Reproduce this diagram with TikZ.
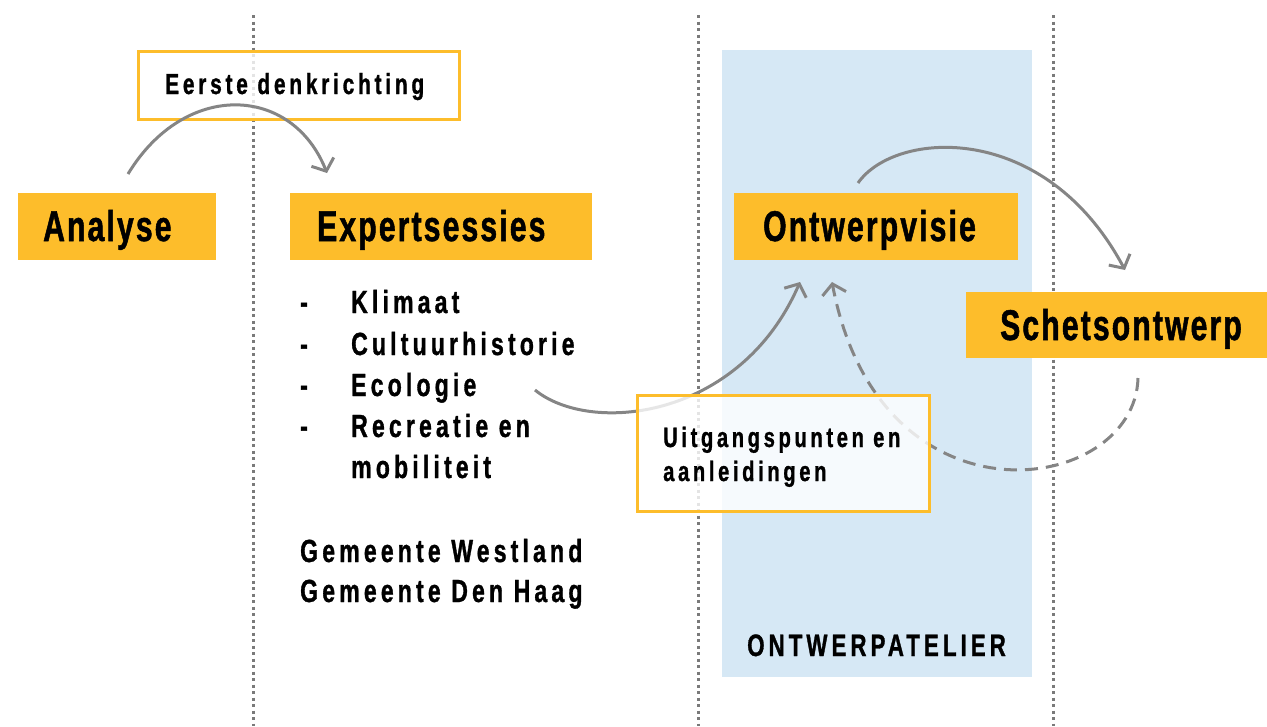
\documentclass[tikz,border=0pt]{standalone}
\usepackage{fontspec}
\setmainfont{Liberation Sans}
\newfontfamily\bigf{Liberation Sans}[FakeStretch=0.7,LetterSpace=5,FakeBold=1.2]
\newfontfamily\smf{Liberation Sans}[FakeStretch=0.72,LetterSpace=13,FakeBold=1]
\usetikzlibrary{arrows.meta}
\definecolor{ylw}{HTML}{FDBD2B}
\definecolor{lblue}{HTML}{D6E8F5}
\definecolor{arr}{HTML}{858585}
\definecolor{dotc}{HTML}{7A7A7A}
\tikzset{
  dotline/.style={dotc, line width=3pt, dash pattern=on 3pt off 3.5pt},
  ybox/.style={fill=ylw, inner sep=0pt, anchor=north west},
  obox/.style={draw=ylw, line width=3pt, fill=white, fill opacity=0.8, inner sep=0pt, anchor=north west},
  bigt/.style={inner sep=0pt, anchor=base west, font=\bigf\bfseries\fontsize{43}{48}\selectfont},
  smt/.style={inner sep=0pt, anchor=base west, font=\smf\bfseries\fontsize{32}{36}\selectfont},
  arrowc/.style={arr, line width=3pt, -{Straight Barb[length=10pt,width=24pt,line width=3pt]}},
  darrowc/.style={arrowc, dash pattern=on 13pt off 8pt}
}
\begin{document}
\begin{tikzpicture}[x=1pt,y=-1pt]
\useasboundingbox (0,0) rectangle (1267,726);
% dotted separators
\draw[dotline] (253,15) -- (253,726);
\draw[dotline] (698,15) -- (698,726);
\draw[dotline] (1053,15) -- (1053,726);
% workshop band
\fill[lblue] (722,50) rectangle (1032,677);
\node[inner sep=0pt, anchor=base west, font=\smf\bfseries\fontsize{31}{36}\selectfont] (atelier) at (747,656) {ONTWERPATELIER};
% first idea box
\node[obox, minimum width=321pt, minimum height=68pt] (eerste) at (137,50) {};
\node[inner sep=0pt, anchor=base west, font=\smf\bfseries\fontsize{29}{34}\selectfont] (eerstet) at (165,94) {Eerste denkrichting};
% main boxes
\node[ybox, minimum width=198pt, minimum height=67pt] (analyse) at (18,193) {};
\node[bigt] (analyset) at (43,241) {Analyse};
\node[ybox, minimum width=302pt, minimum height=67pt] (expert) at (290,193) {};
\node[bigt] (expertt) at (317,241) {Expertsessies};
\node[ybox, minimum width=284pt, minimum height=67pt] (visie) at (734,193) {};
\node[bigt] (visiet) at (763,241) {Ontwerpvisie};
\node[ybox, minimum width=301pt, minimum height=66pt] (schets) at (966,292) {};
\node[bigt] (schetst) at (1000,340) {Schetsontwerp};
% list
\node[smt] (d1) at (300,313) {-};
\node[smt] (l1) at (351,313) {Klimaat};
\node[smt] (d2) at (300,355) {-};
\node[smt] (l2) at (351,355) {Cultuurhistorie};
\node[smt] (d3) at (300,396) {-};
\node[smt] (l3) at (351,396) {Ecologie};
\node[smt] (d4) at (300,437) {-};
\node[smt] (l4) at (351,437) {Recreatie en};
\node[smt] (l5) at (351,478) {mobiliteit};
\node[smt] (g1) at (300,562) {Gemeente Westland};
\node[smt] (g2) at (300,602) {Gemeente Den Haag};
% arrows
\coordinate (a1s) at (128,174);
\coordinate (a1e) at (327,173);
\draw[arrowc] (a1s) .. controls (185,80) and (292,85) .. (a1e);
\coordinate (a2s) at (535,390);
\coordinate (a2e) at (800,282);
\draw[arrowc] (a2s) .. controls (590,435) and (740,420) .. (a2e);
\coordinate (a3s) at (858,183);
\coordinate (a3e) at (1125,270);
\draw[arrowc] (a3s) .. controls (895,130) and (1045,120) .. (a3e);
\coordinate (a4s) at (1138,378);
\coordinate (a4e) at (832,282);
\draw[darrowc] (a4s) .. controls (1135,495) and (880,535) .. (a4e);
% premises box
\node[obox, minimum width=292pt, minimum height=116pt] (uitg) at (636,394) {};
\node[inner sep=0pt, anchor=base west, font=\smf\bfseries\fontsize{28}{34}\selectfont] (uitgt1) at (663,447) {Uitgangspunten en};
\node[inner sep=0pt, anchor=base west, font=\smf\bfseries\fontsize{28}{34}\selectfont] (uitgt2) at (663,481) {aanleidingen};
\end{tikzpicture}
\end{document}
